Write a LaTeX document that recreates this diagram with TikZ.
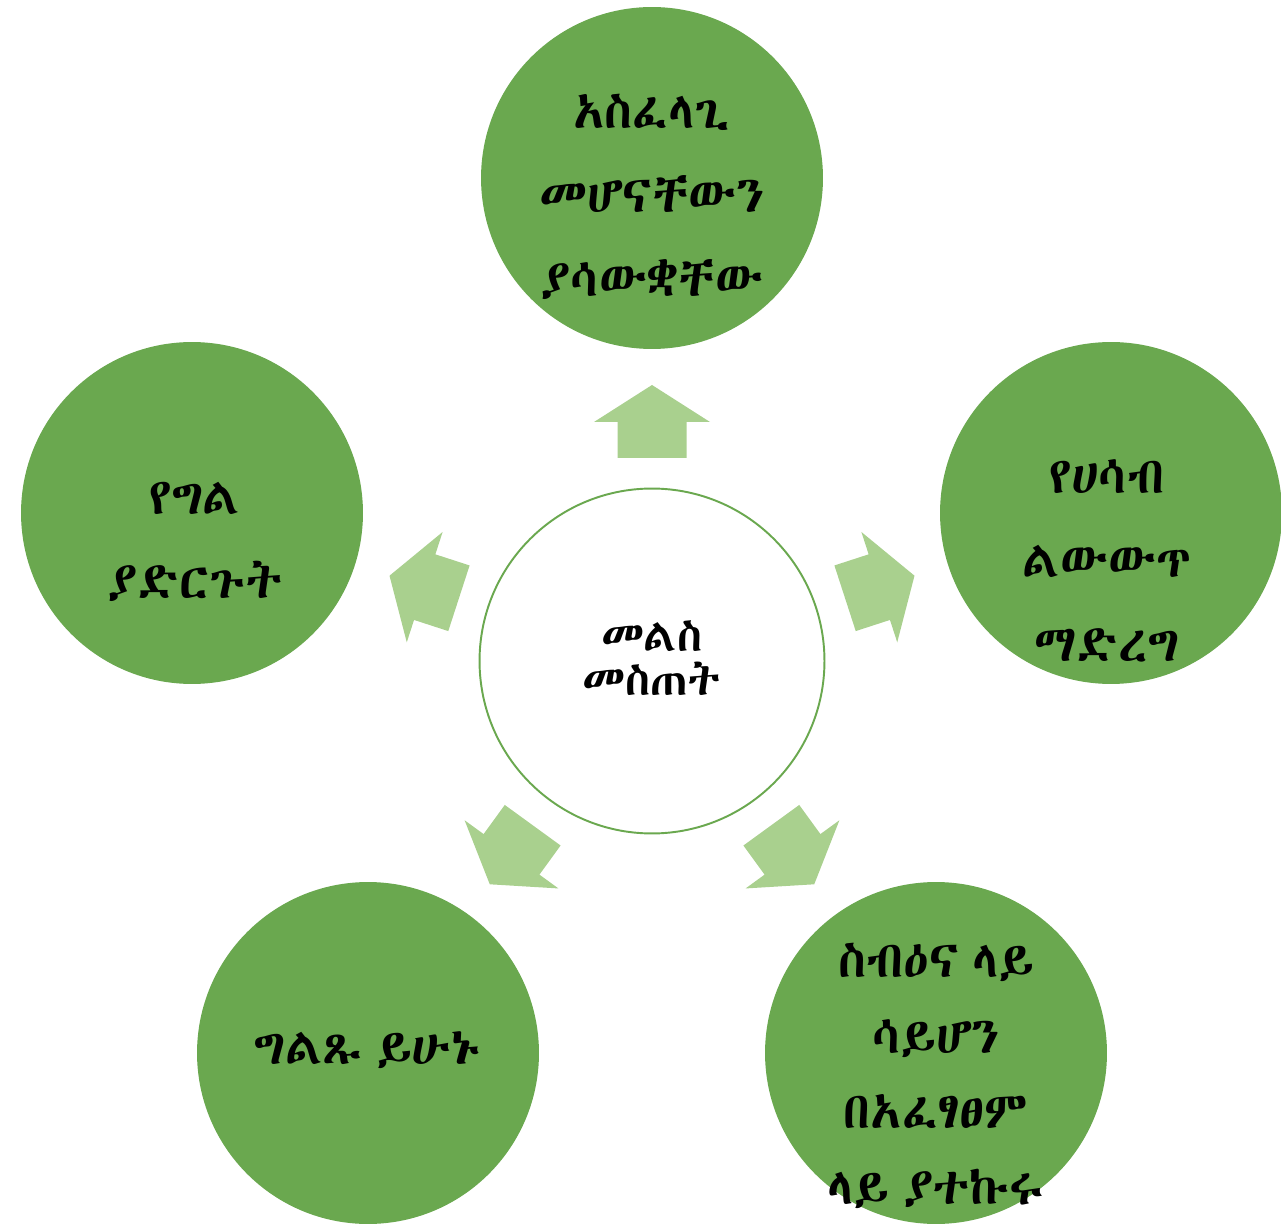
\documentclass[tikz,border=0pt]{standalone}
\usepackage{fontspec}
\newfontfamily\ethfont[WordSpace=0.6]{Abyssinica SIL}
\definecolor{leafgreen}{HTML}{6AA84F}
\definecolor{palegreen}{HTML}{A9D08E}
\tikzset{
  petal/.style={circle, fill=leafgreen, inner sep=0pt, minimum size=6.84cm},
  hub/.style={circle, draw=leafgreen, line width=1.1pt, fill=white, inner sep=0pt, minimum size=6.9cm},
  petaltext/.style={align=center, font=\ethfont\fontsize{29}{48}\selectfont},
  hubtext/.style={align=center, font=\ethfont\fontsize{26}{25}\selectfont},
  blockarrow/.style={fill=palegreen}
}
\begin{document}
\begin{tikzpicture}[x=0.02cm, y=0.02cm]
\useasboundingbox (0,0) rectangle (1281,1225);

\node[hub] (C) at (652, 564) {};
\node[petal] (T) at (652, 1047) {};
\node[petal] (R) at (1111, 712) {};
\node[petal] (L) at (192, 712) {};
\node[petal] (BL) at (368, 172) {};
\node[petal] (BR) at (936, 172) {};

% block arrows around the hub
\foreach \a in {0,72,144,216,288}
  \fill[blockarrow, shift={(652,564)}, rotate=\a]
    (-34.5,203) -- (-34.5,239) -- (-58,239) -- (0,276) -- (58,239) -- (34.5,239) -- (34.5,203) -- cycle;

\node[hubtext] (Ct) at (652, 567) {መልስ\\መስጠት};
\node[petaltext] (Tt) at (652, 1028) {አስፈላጊ\\መሆናቸውን\\ያሳውቋቸው};
\node[petaltext] (Rt) at (1107, 664) {የሀሳብ\\ልውውጥ\\ማድረግ};
\node[petaltext, font=\ethfont\fontsize{29}{43}\selectfont] (BRt) at (936, 149) {ስብዕና ላይ\\ሳይሆን\\በአፈፃፀም\\ላይ ያተኩሩ};
\node[petaltext] (BLt) at (367, 175) {ግልጹ ይሁኑ};
\node[petaltext] (Lt) at (195, 683) {የግል\\ያድርጉት};
\end{tikzpicture}
\end{document}
